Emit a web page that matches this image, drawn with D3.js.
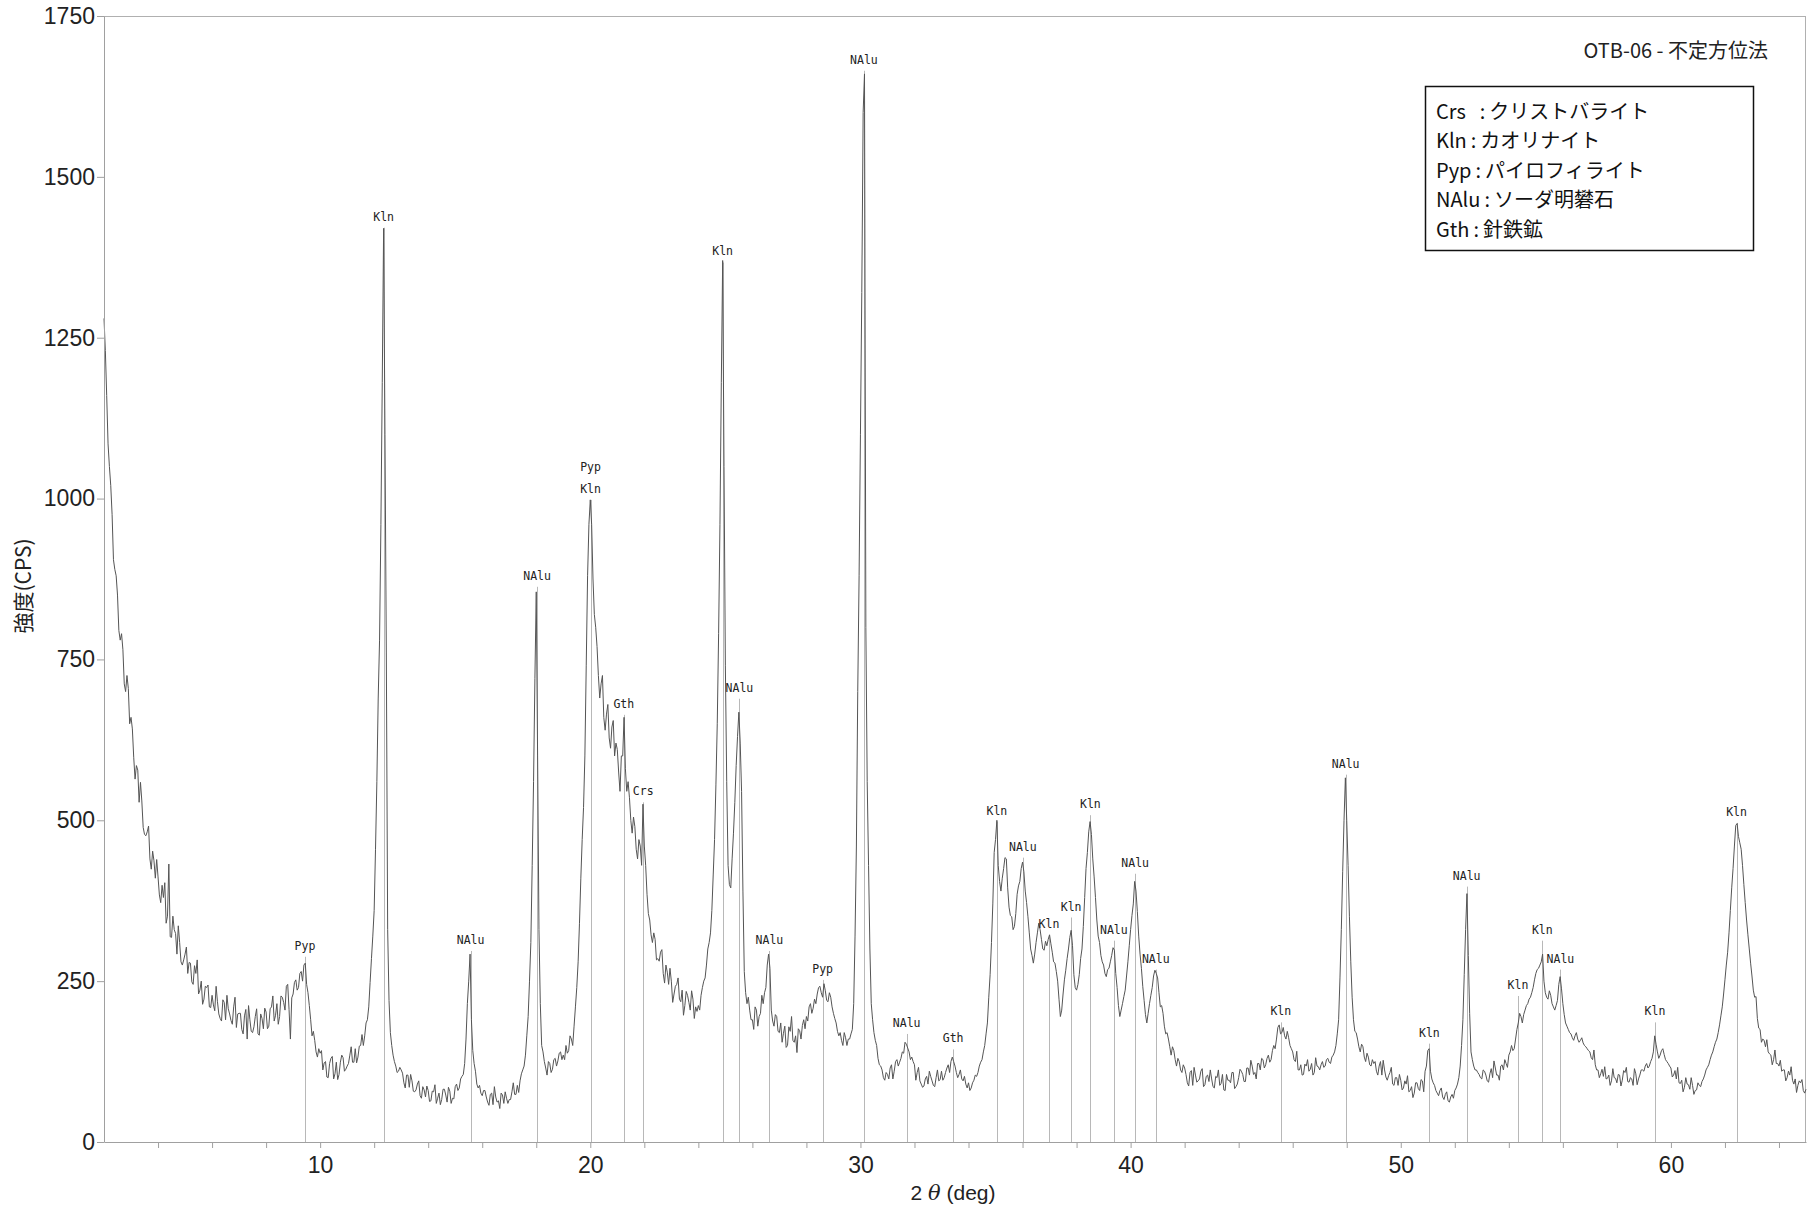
<!DOCTYPE html>
<html>
<head>
<meta charset="utf-8">
<script src="https://cdn.jsdelivr.net/npm/d3@7/dist/d3.min.js"></script>
<style>
  html, body { margin: 0; padding: 0; background: #fff; }
  svg { display: block; }
</style>
</head>
<body>
<script>
// ---- data ----
const scanStart = 2.0;   // 2θ of first sample (deg)
const scanStep = 0.1;    // step of each array below (deg); the two arrays are offset by half a step
// intensity at 2.0, 2.1, 2.2 ... 65.0
const intensity = [
  1280,1160,1050,975,890,850,780,765,700,705,
  660,598,585,528,530,478,482,440,452,410,
  412,372,380,340,432,318,330,292,310,275,
  292,262,278,245,262,230,250,222,240,210,
  228,204,218,192,221,190,207,189,210,178,
  200,175,196,160,190,170,195,168,199,176,
  202,180,210,188,215,195,225,205,245,160,
  230,252,240,265,275,245,212,165,158,132,
  138,112,125,100,130,98,124,105,135,110,
  118,135,124,145,132,150,150,185,210,285,
  360,560,780,1180,1100,330,170,135,118,110,
  112,92,104,85,95,78,90,72,86,70,
  80,64,78,60,76,66,82,62,79,68,
  86,80,98,105,160,250,190,122,90,88,
  72,80,62,74,58,70,64,76,60,68,
  66,78,74,88,95,112,135,195,310,560,
  855,330,150,125,104,122,113,130,126,140,
  135,150,142,160,180,240,340,470,600,880,
  998,875,800,725,712,660,665,628,645,600,
  610,545,600,580,560,500,505,455,470,430,
  460,385,345,310,315,285,295,262,275,245,
  250,230,245,222,236,212,228,205,222,210,
  212,228,250,275,310,360,470,650,960,1370,
  740,430,395,480,585,668,545,265,215,205,
  190,210,180,200,215,240,292,205,180,195,
  170,155,180,150,172,158,165,176,160,190,
  195,210,200,222,230,242,225,235,218,225,
  200,185,165,158,170,150,160,175,320,700,
  1100,1600,800,430,215,170,150,120,112,96,
  105,115,98,125,118,130,138,152,140,132,
  120,108,95,85,98,90,102,88,100,95,
  110,100,115,108,132,118,100,112,95,90,
  92,84,96,102,118,128,150,185,260,370,
  470,430,390,425,440,365,350,335,385,405,
  435,390,350,300,278,310,340,315,298,305,
  322,295,278,250,195,230,267,300,329,260,
  236,260,300,380,450,498,440,380,320,290,
  275,257,270,290,298,240,195,215,236,280,
  330,370,390,320,270,220,185,215,240,267,
  255,210,200,168,160,135,142,118,125,108,
  115,92,108,88,104,95,110,86,102,94,
  98,84,100,88,105,80,96,92,108,86,
  100,110,94,115,104,118,108,122,112,128,
  120,135,128,150,160,182,170,165,172,150,
  140,125,112,120,105,118,110,122,108,118,
  112,125,118,130,122,135,150,190,330,500,
  500,350,225,172,160,140,148,125,132,118,
  122,110,118,104,112,96,108,90,100,88,
  96,84,90,78,86,76,92,80,95,110,
  142,110,92,80,72,84,66,78,62,74,
  80,90,118,190,330,290,140,118,112,105,
  98,110,95,106,100,115,104,118,112,122,
  135,150,145,175,200,185,205,215,225,240,
  262,270,280,250,225,235,215,205,220,257,
  215,185,175,168,158,170,155,162,150,145,
  140,128,120,112,106,102,98,104,95,100,
  92,104,96,108,94,100,88,106,98,112,
  110,122,118,130,165,140,135,145,128,122,
  115,104,98,92,96,85,90,82,88,80,
  92,86,98,112,120,135,148,160,182,210,
  252,295,360,425,492,475,455,400,345,300,
  258,225,192,175,160,148,140,135,128,122,
  118,110,112,100,104,96,98,88,92,80,
  82
];
// intensity at 2.05, 2.15, 2.25 ... 64.95
const intensityHalf = [
  1230,1085,1020,905,880,795,790,712,725,650,
  642,564,578,559,489,476,491,424,437,439,
  384,399,403,351,319,351,324,336,280,283,
  303,279,249,274,283,236,214,242,244,209,
  213,242,199,188,217,228,199,183,225,199,
  200,168,206,212,172,179,207,166,192,208,
  176,207,227,197,183,227,217,242,206,224,
  248,236,262,250,278,232,190,172,140,145,
  142,123,101,122,133,106,97,124,131,113,
  122,148,124,123,149,167,165,190,248,320,
  455,690,960,1420,760,220,150,125,108,116,
  107,84,104,105,79,81,95,68,81,87,
  63,79,89,68,58,82,73,85,60,67,
  90,84,102,122,215,292,142,110,84,76,
  80,70,57,76,86,62,52,73,78,60,
  66,92,74,77,106,118,165,250,430,720,
  600,215,140,115,125,108,128,118,138,128,
  128,138,165,150,210,280,410,520,740,960,
  960,820,770,690,725,640,680,612,655,620,
  575,600,660,545,535,480,490,440,460,525,
  430,355,322,325,283,281,299,247,264,270,
  217,242,255,218,197,234,217,235,192,203,
  205,240,255,300,325,415,555,790,1180,1050,
  560,400,440,528,630,620,390,232,225,190,
  175,205,195,228,232,275,270,188,198,172,
  185,169,147,179,195,155,139,173,181,176,
  188,215,208,215,240,232,246,220,232,210,
  192,172,170,150,162,160,168,215,460,880,
  1320,1660,560,300,190,158,130,118,100,108,
  98,120,110,128,124,140,155,146,128,125,
  96,116,90,87,102,110,95,86,112,97,
  96,108,120,125,125,108,105,98,102,84,
  80,92,104,108,124,140,168,225,310,450,
  500,405,410,442,395,352,330,355,398,425,
  420,372,325,290,292,325,330,300,312,315,
  308,280,265,222,205,252,285,318,305,240,
  245,285,335,425,482,478,412,345,310,280,
  262,268,280,302,262,212,205,226,258,305,
  352,405,358,292,242,198,200,228,258,262,
  232,212,180,170,148,148,128,130,112,120,
  105,87,111,116,93,98,114,89,104,112,
  86,102,112,91,81,105,96,108,83,90,
  113,105,94,115,127,105,98,122,130,115,
  130,124,142,145,178,168,178,160,162,145,
  128,141,112,104,121,128,113,104,131,117,
  120,116,128,124,132,140,168,255,420,566,
  430,280,190,170,148,152,132,138,120,128,
  125,104,125,127,101,103,116,88,100,105,
  81,95,103,80,69,92,83,97,78,118,
  145,98,88,76,80,70,74,64,70,68,
  84,100,150,260,386,200,128,112,108,100,
  112,104,93,114,126,104,96,120,128,116,
  140,142,160,185,195,198,212,222,232,252,
  268,275,292,232,222,228,210,212,245,238,
  198,180,170,162,165,160,158,154,148,142,
  131,143,112,100,113,117,99,88,114,99,
  105,87,111,116,93,98,114,89,104,112,
  118,115,125,140,152,130,142,136,125,118,
  101,111,116,91,78,100,89,100,74,81,
  88,94,104,116,128,140,155,170,196,230,
  275,325,395,460,495,465,430,372,322,278,
  236,226,177,155,158,159,137,120,143,122,
  127,112,95,110,117,90,77,95,97,76
];

// identified peaks
const peakPos = [9.44,12.35,15.57,18.03,20.01,20.01,21.24,21.96,24.9,25.52,26.63,28.6,30.13,31.71,33.43,35.05,36.01,36.98,37.8,38.51,39.38,40.17,40.93,45.56,47.96,51.06,52.44,54.34,55.24,55.91,59.41,62.43];
const peakName = ["Pyp","Kln","NAlu","NAlu","Pyp","Kln","Gth","Crs","Kln","NAlu","NAlu","Pyp","NAlu","NAlu","Gth","Kln","NAlu","Kln","Kln","Kln","NAlu","NAlu","NAlu","Kln","NAlu","Kln","NAlu","Kln","Kln","NAlu","Kln","Kln"];
const peakLabelLevel = [305,1438,314,880,1049,1015,681,545,1384,706,314,269,1682,185,161,515,459,339,366,525,330,434,285,203,588,170,414,244,330,285,203,513];

const xTicks = [4,6,8,10,12,14,16,18,20,22,24,26,28,30,32,34,36,38,40,42,44,46,48,50,52,54,56,58,60,62,64];
const xTickLabels = [10,20,30,40,50,60];
const yTicks = [0,250,500,750,1000,1250,1500,1750];

const legendLines = ["Crs\u2002\u2009:\u2009クリストバライト","Kln\u2009:\u2009カオリナイト","Pyp\u2009:\u2009パイロフィライト","NAlu\u2009:\u2009ソーダ明礬石","Gth\u2009:\u2009針鉄鉱"];
const chartTitle = "OTB-06 - 不定方位法";
const yTitle = "強度(CPS)";

// ---- combine the two interleaved sample arrays ----
const samples = [];
intensity.forEach((v, i) => {
  samples.push({ t: scanStart + i * scanStep, v });
  if (i < intensityHalf.length) samples.push({ t: scanStart + (i + 0.5) * scanStep, v: intensityHalf[i] });
});

// ---- drawing ----
const W = 1809, H = 1207;
const L = 104, R = 1806, T = 16, B = 1142;
const svg = d3.select("body").append("svg").attr("width", W).attr("height", H);

const x = d3.scaleLinear().domain([2, 65]).range([L, R]);
const y = d3.scaleLinear().domain([0, 1750]).range([B, T]);

const numFont = "'Liberation Sans Narrow','Liberation Sans',Arial,sans-serif";
const cjkFont = "'Noto Sans CJK JP','Noto Sans',sans-serif";

// frame (top and right)
svg.append("line").attr("x1", L).attr("x2", R).attr("y1", T + 0.5).attr("y2", T + 0.5)
  .attr("stroke", "#b0b0b0").attr("stroke-width", 1);
svg.append("line").attr("x1", R - 0.5).attr("x2", R - 0.5).attr("y1", T).attr("y2", B)
  .attr("stroke", "#b0b0b0").attr("stroke-width", 1);

// peak marker lines
const pk = peakPos.map((p, i) => ({ p, name: peakName[i], lvl: peakLabelLevel[i] }));
const lineTop = {};
pk.forEach(d => { lineTop[d.p] = Math.min(lineTop[d.p] ?? Infinity, d.lvl); });
svg.append("g").selectAll("line").data(Object.keys(lineTop)).join("line")
  .attr("x1", d => Math.round(x(+d)) + 0.5).attr("x2", d => Math.round(x(+d)) + 0.5)
  .attr("y1", B).attr("y2", d => y(lineTop[d]) + 11)
  .attr("stroke", "#b8b8b8").attr("stroke-width", 1);

// trace
const line = d3.line().x(d => x(d.t)).y(d => y(d.v));
svg.append("path").datum(samples).attr("d", line)
  .attr("fill", "none").attr("stroke", "#555").attr("stroke-width", 1)
  .attr("stroke-linejoin", "round");

// peak labels
svg.append("g").selectAll("text").data(pk).join("text")
  .attr("x", d => x(d.p)).attr("y", d => y(d.lvl))
  .attr("text-anchor", "middle").attr("dominant-baseline", "central")
  .attr("font-family", "'DejaVu Sans Mono',monospace").attr("font-size", 11.5)
  .attr("fill", "#222").text(d => d.name);

// axes
const xAxis = d3.axisBottom(x).tickValues(xTicks).tickSize(6).tickSizeOuter(0)
  .tickFormat(d => xTickLabels.includes(d) ? d : "");
const gx = svg.append("g").attr("transform", `translate(0,${B})`).call(xAxis);
gx.select(".domain").attr("stroke", "#a0a0a0");
gx.selectAll(".tick line").attr("stroke", "#a0a0a0");
gx.selectAll(".tick text").attr("font-family", numFont).attr("font-size", 23)
  .attr("fill", "#222").attr("dy", "0.95em");

const yAxis = d3.axisLeft(y).tickValues(yTicks).tickSize(7).tickSizeOuter(0).tickFormat(d3.format("d"));
const gy = svg.append("g").attr("transform", `translate(${L},0)`).call(yAxis);
gy.select(".domain").attr("stroke", "#a0a0a0");
gy.selectAll(".tick line").attr("stroke", "#a0a0a0");
gy.selectAll(".tick text").attr("font-family", numFont).attr("font-size", 23)
  .attr("fill", "#222").attr("x", -9);

// axis titles
const xt = svg.append("text").attr("x", 953).attr("y", 1200).attr("text-anchor", "middle")
  .attr("font-family", numFont).attr("font-size", 21).attr("fill", "#222");
xt.append("tspan").text("2 ");
xt.append("tspan").attr("font-family", "'DejaVu Serif',serif").attr("font-style", "italic").text("θ");
xt.append("tspan").text(" (deg)");

svg.append("text").attr("transform", "translate(31,586) rotate(-90)")
  .attr("text-anchor", "middle").attr("font-family", cjkFont).attr("font-size", 21)
  .attr("fill", "#222").text(yTitle);

// title
svg.append("text").attr("x", 1768).attr("y", 58).attr("text-anchor", "end")
  .attr("font-family", cjkFont).attr("font-size", 20).attr("font-weight", 400)
  .attr("fill", "#222").text(chartTitle);

// legend box
svg.append("rect").attr("x", 1425.5).attr("y", 86.5).attr("width", 328).attr("height", 164)
  .attr("fill", "#fff").attr("stroke", "#111").attr("stroke-width", 1.5);
svg.append("g").selectAll("text").data(legendLines).join("text")
  .attr("x", 1436).attr("y", (d, i) => 110 + i * 29.5).attr("dominant-baseline", "central")
  .attr("font-family", cjkFont).attr("font-size", 20).attr("fill", "#111").text(d => d);
</script>
</body>
</html>
